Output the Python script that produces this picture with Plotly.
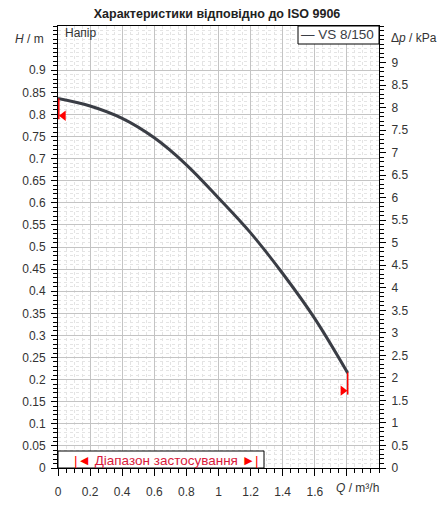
import plotly.graph_objects as go

# ---- data ----
Q = [0.0, 0.2, 0.4, 0.6, 0.8, 1.0, 1.2, 1.4, 1.6, 1.805]
H = [0.836, 0.819, 0.791, 0.747, 0.686, 0.611, 0.532, 0.440, 0.338, 0.215]

# operating range markers (start / end)
range_start_q = [0.005, 0.005]
range_start_h = [0.836, 0.789]
range_end_q = [1.805, 1.805]
range_end_h = [0.216, 0.166]
arrow_left = (0.034, 0.797)
arrow_right = (1.775, 0.175)

x_ticks = [0, 0.2, 0.4, 0.6, 0.8, 1.0, 1.2, 1.4, 1.6, 1.8]
x_labels = ["0", "0.2", "0.4", "0.6", "0.8", "1", "1.2", "1.4", "1.6", ""]
h_ticks = [round(i * 0.05, 2) for i in range(19)]
h_labels = ["0", "0.05", "0.1", "0.15", "0.2", "0.25", "0.3", "0.35", "0.4", "0.45",
            "0.5", "0.55", "0.6", "0.65", "0.7", "0.75", "0.8", "0.85", "0.9"]
p_ticks = [i * 0.5 for i in range(19)]
p_labels = ["0", "0.5", "1", "1.5", "2", "2.5", "3", "3.5", "4", "4.5",
            "5", "5.5", "6", "6.5", "7", "7.5", "8", "8.5", "9"]
H_MAX = 1.0
P_MAX = 9.81

title = "Характеристики відповідно до ISO 9906"
series_name = "VS 8/150"

FONT = "Liberation Sans, Arial, DejaVu Sans, sans-serif"
TXT = "#333333"

# page body has an 8px default margin: figure is sized/offset to compensate
OFF = 8
W, Hh = 432, 490
ML, MR, MT, MB = 58 - OFF, W - (379 - OFF), 26 - OFF, Hh - (468 - OFF)

fig = go.Figure()

fig.add_trace(go.Scatter(x=Q, y=H, mode="lines", line=dict(color="#3a3d45", width=3, shape="spline"),
                         showlegend=False, hoverinfo="skip"))
fig.add_trace(go.Scatter(x=range_start_q, y=range_start_h, mode="lines",
                         line=dict(color="#ff0000", width=1.5), showlegend=False, hoverinfo="skip"))
fig.add_trace(go.Scatter(x=range_end_q, y=range_end_h, mode="lines",
                         line=dict(color="#ff0000", width=1.5), showlegend=False, hoverinfo="skip"))
fig.add_trace(go.Scatter(x=[arrow_left[0]], y=[arrow_left[1]], mode="markers",
                         marker=dict(symbol="triangle-left", size=9, color="#ff0000"),
                         showlegend=False, hoverinfo="skip", cliponaxis=False))
fig.add_trace(go.Scatter(x=[arrow_right[0]], y=[arrow_right[1]], mode="markers",
                         marker=dict(symbol="triangle-right", size=9, color="#ff0000"),
                         showlegend=False, hoverinfo="skip", cliponaxis=False))
# dummy trace for the kPa axis
fig.add_trace(go.Scatter(x=[None], y=[None], yaxis="y2", showlegend=False, hoverinfo="skip"))

grid_major = "#c4c4c4"
grid_minor = "#e4e4e4"

fig.update_layout(
    width=W, height=Hh,
    margin=dict(l=ML, r=MR, t=MT, b=MB, pad=0),
    paper_bgcolor="white", plot_bgcolor="white",
    font=dict(family=FONT, size=12, color=TXT),
    title=dict(text="<b>" + title + "</b>", x=(217 - OFF) / W, xanchor="center",
               y=1 - (14 - OFF) / Hh, yanchor="middle", font=dict(size=12.5, color="#222222")),
    xaxis=dict(range=[0, 2.0], tickmode="array", tickvals=x_ticks, ticktext=x_labels,
               showgrid=True, gridcolor=grid_major, gridwidth=1,
               ticks="outside", ticklen=7, tickcolor="black", tickwidth=1,
               showline=True, linecolor="black", linewidth=1, mirror=True,
               zeroline=False, ticklabelstandoff=6, automargin=False,
               minor=dict(dtick=0.05, tick0=0, ticks="outside", ticklen=4, tickcolor="black",
                          showgrid=True, gridcolor=grid_minor, griddash="dot", gridwidth=1),
               tickfont=dict(size=12, color=TXT)),
    yaxis=dict(range=[0, H_MAX], tickmode="array", tickvals=h_ticks, ticktext=h_labels,
               showgrid=True, gridcolor=grid_major, gridwidth=1,
               ticks="outside", ticklen=6, tickcolor="black", tickwidth=1,
               showline=True, linecolor="black", linewidth=1, mirror=True,
               zeroline=False, ticklabelstandoff=3, automargin=False,
               minor=dict(dtick=0.01, tick0=0, ticks="outside", ticklen=4, tickcolor="black",
                          showgrid=True, gridcolor=grid_minor, griddash="dot", gridwidth=1),
               tickfont=dict(size=12, color=TXT)),
    yaxis2=dict(range=[0, P_MAX], overlaying="y", side="right", tickmode="array",
                tickvals=p_ticks, ticktext=p_labels, showgrid=False,
                ticks="outside", ticklen=6, tickcolor="black", tickwidth=1,
                showline=True, linecolor="black", linewidth=1, zeroline=False,
                ticklabelstandoff=3, automargin=False,
                minor=dict(dtick=0.1, tick0=0, ticks="outside", ticklen=4, tickcolor="black",
                           showgrid=False),
                tickfont=dict(size=12, color=TXT)),
)

PW, PH = 321.0, 442.0
def px(xp):
    return (xp - 58) / PW
def py(yp):
    return (468 - yp) / PH

# legend box
fig.add_shape(type="rect", xref="paper", yref="paper", x0=px(298), x1=1.0, y0=py(44), y1=1.0,
              fillcolor="white", line=dict(color="black", width=1), layer="above")
fig.add_annotation(xref="paper", yref="paper", x=px(376), y=py(34.5), xanchor="right", yanchor="middle",
                   text="— " + series_name, showarrow=False, font=dict(size=13.5, color="#3a3d45"))

# operating range box
fig.add_shape(type="rect", xref="paper", yref="paper", x0=0, x1=px(264), y0=0, y1=py(451),
              fillcolor="white", line=dict(color="black", width=1), layer="above")
fig.add_annotation(xref="paper", yref="paper", x=px(166), y=py(460), xanchor="center", yanchor="middle",
                   text="<span style='color:#ff0000'>|◄</span> Діапазон застосування <span style='color:#ff0000'>►|</span>",
                   showarrow=False, font=dict(size=13.5, color="#d81b3c",
                                              family="Liberation Sans, DejaVu Sans, sans-serif"))

# labels
fig.add_annotation(xref="paper", yref="paper", x=px(63), y=py(33), xanchor="left", yanchor="middle",
                   text="Напір", showarrow=False, font=dict(size=12, color=TXT))
fig.add_annotation(xref="paper", yref="paper", x=px(46), y=py(39), xanchor="right", yanchor="middle",
                   text="<i>H</i> / m", showarrow=False, font=dict(size=12, color=TXT))
fig.add_annotation(xref="paper", yref="paper", x=px(389), y=py(38), xanchor="left", yanchor="middle",
                   text="Δ<i>p</i> / kPa", showarrow=False, font=dict(size=12, color=TXT))
fig.add_annotation(xref="paper", yref="paper", x=px(334), y=py(488), xanchor="left", yanchor="middle",
                   text="<i>Q</i> / m³/h", showarrow=False, font=dict(size=12, color=TXT))

fig.write_html("out.html")
